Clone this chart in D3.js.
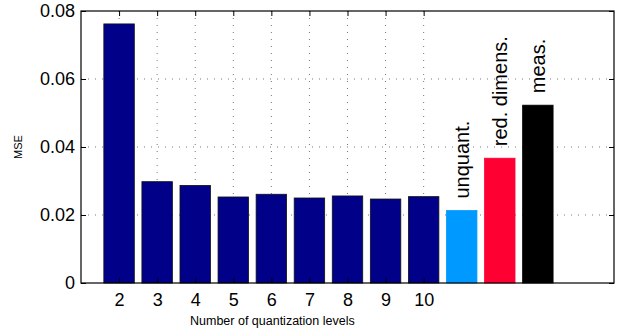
<!DOCTYPE html>
<html>
<head>
<meta charset="utf-8">
<script src="https://cdn.jsdelivr.net/npm/d3@7"></script>
<style>
	body { margin: 0; background: #fff; }
	text { font-family: "Liberation Sans", Arial, Helvetica, sans-serif; }
</style>
</head>
<body>
<div id="chart"></div>
<script>
	'use strict';

	// quantization levels and their MSE
	var levels = [2, 3, 4, 5, 6, 7, 8, 9, 10],
			levelMse = [0.0762, 0.0298, 0.0287, 0.0253, 0.0261, 0.0250, 0.0256, 0.0247, 0.0254];

	// reference bars drawn after the levels
	var refNames = ['unquant.', 'red. dimens.', 'meas.'],
			refPos = [11, 12, 13],
			refMse = [0.0213, 0.0367, 0.0523],
			refColors = ['#0099ff', '#ff0033', '#000000'];

	var yTicks = [0, 0.02, 0.04, 0.06, 0.08];

	var margin = { top: 11, right: 9, bottom: 51, left: 81 },
			width = 623 - margin.left - margin.right,
			height = 334 - margin.top - margin.bottom;

	var x = d3.scaleLinear().domain([1, 15]).range([0, width]),
			y = d3.scaleLinear().domain([0, 0.08]).range([height, 0]),
			barW = (x(2) - x(1)) * 0.8;

	var svg = d3.select('#chart')
		.append('svg')
		.attr('width', 623)
		.attr('height', 334);

	var g = svg.append('g')
		.attr('transform', 'translate(' + margin.left + ',' + margin.top + ')');

	// dotted grid
	g.selectAll('.vgrid')
		.data(levels)
		.enter().append('line')
		.attr('x1', function (d) { return x(d); })
		.attr('x2', function (d) { return x(d); })
		.attr('y1', 0)
		.attr('y2', height)
		.attr('stroke', '#666')
		.attr('stroke-width', 0.9)
		.attr('stroke-dasharray', '1,6');

	g.selectAll('.hgrid')
		.data(yTicks.slice(1, -1))
		.enter().append('line')
		.attr('x1', 0)
		.attr('x2', width)
		.attr('y1', function (d) { return y(d); })
		.attr('y2', function (d) { return y(d); })
		.attr('stroke', '#666')
		.attr('stroke-width', 0.9)
		.attr('stroke-dasharray', '1,6');

	// level bars
	g.selectAll('.bar')
		.data(levels)
		.enter().append('rect')
		.attr('x', function (d) { return x(d) - barW / 2; })
		.attr('y', function (d, i) { return y(levelMse[i]); })
		.attr('width', barW)
		.attr('height', function (d, i) { return height - y(levelMse[i]); })
		.attr('fill', '#000088')
		.attr('stroke', '#111')
		.attr('stroke-width', 0.8);

	// reference bars
	g.selectAll('.ref')
		.data(refPos)
		.enter().append('rect')
		.attr('x', function (d) { return x(d) - barW / 2; })
		.attr('y', function (d, i) { return y(refMse[i]); })
		.attr('width', barW)
		.attr('height', function (d, i) { return height - y(refMse[i]); })
		.attr('fill', function (d, i) { return refColors[i]; })
		.attr('stroke', function (d, i) { return refColors[i]; })
		.attr('stroke-width', 0.8);

	g.selectAll('.refLabel')
		.data(refPos)
		.enter().append('text')
		.attr('transform', function (d, i) {
			return 'translate(' + (x(d) + 7) + ',' + (y(refMse[i]) - 12) + ') rotate(-90)';
		})
		.attr('font-size', 20)
		.attr('fill', '#000')
		.text(function (d, i) { return refNames[i]; });

	// frame
	g.append('rect')
		.attr('width', width)
		.attr('height', height)
		.attr('fill', 'none')
		.attr('stroke', '#000')
		.attr('stroke-width', 1.2);

	// inward ticks on all four sides
	var tickLen = 5;
	var xAxisB = d3.axisBottom(x).tickValues(levels).tickSize(-tickLen).tickPadding(10).tickFormat(d3.format('d'));
	var xAxisT = d3.axisTop(x).tickValues(levels).tickSize(-tickLen).tickFormat('');
	var yAxisL = d3.axisLeft(y).tickValues(yTicks).tickSize(-tickLen).tickPadding(6)
		.tickFormat(function (d) { return d === 0 ? '0' : d3.format('.2f')(d); });
	var yAxisR = d3.axisRight(y).tickValues(yTicks).tickSize(-tickLen).tickFormat('');

	function styleAxis(sel, size) {
		sel.select('.domain').remove();
		sel.selectAll('line').attr('stroke', '#000');
		sel.selectAll('text').attr('font-size', size).attr('fill', '#000')
			.style('font-family', '"Liberation Sans", Arial, sans-serif');
	}

	g.append('g').attr('transform', 'translate(0,' + height + ')').call(xAxisB).call(styleAxis, 18);
	g.append('g').call(xAxisT).call(styleAxis, 18);
	g.append('g').call(yAxisL).call(styleAxis, 18);
	g.append('g').attr('transform', 'translate(' + width + ',0)').call(yAxisR).call(styleAxis, 18);

	// axis titles
	g.append('text')
		.attr('x', (x(2) + x(10)) / 2 + 1)
		.attr('y', height + 42)
		.attr('text-anchor', 'middle')
		.attr('font-size', 12.5)
		.text('Number of quantization levels');

	svg.append('text')
		.attr('transform', 'translate(22,' + (margin.top + height / 2) + ') rotate(-90)')
		.attr('text-anchor', 'middle')
		.attr('font-size', 11)
		.text('MSE');
</script>
</body>
</html>
